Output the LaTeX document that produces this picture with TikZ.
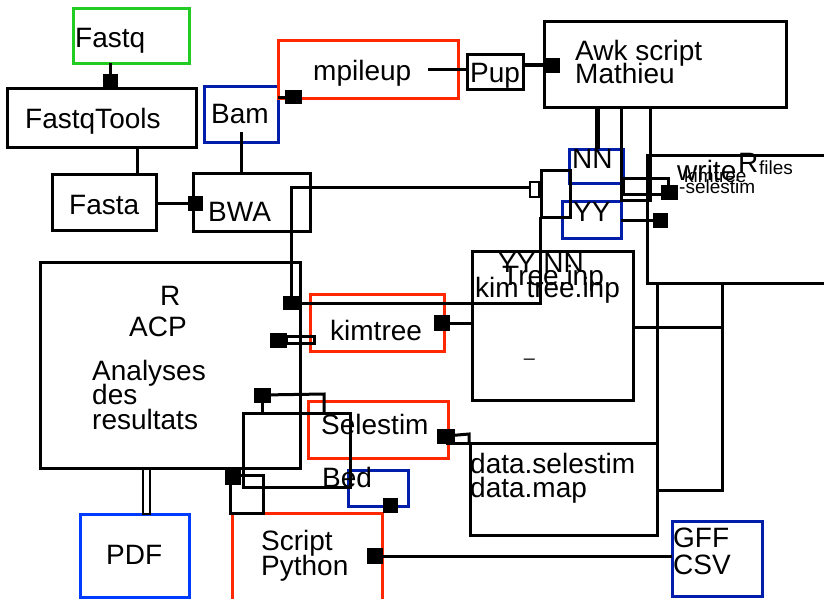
\documentclass[tikz,border=0pt]{standalone}
\usepackage{fontspec}
\setmainfont{Liberation Sans}
\usetikzlibrary{calc}
\definecolor{mygreen}{RGB}{34,204,34}
\definecolor{myred}{RGB}{255,40,0}
\definecolor{dblue}{RGB}{0,30,170}
\definecolor{bblue}{RGB}{0,60,255}
\begin{document}
\begin{tikzpicture}[x=1pt,y=-1pt,
 box/.style={draw, line width=3pt, inner sep=0pt, outer sep=0pt, anchor=north west},
 sq/.style={fill=black, inner sep=0pt, outer sep=0pt, minimum size=15pt},
 conn/.style={line width=3pt},
 thinc/.style={line width=2.2pt},
 lbl/.style={anchor=base west, inner sep=0pt, font=\fontsize{28}{28}\selectfont},
 slbl/.style={anchor=base west, inner sep=0pt, font=\fontsize{19}{19}\selectfont}]
\useasboundingbox (0,0) rectangle (824,598);
\clip (0,0) rectangle (824,598);
% boxes
\node[box, draw=mygreen, minimum width=116pt, minimum height=55pt] (fastq) at (73,8) {};
\node[box, minimum width=189pt, minimum height=59pt] (fastqtools) at (7,88) {};
\node[box, draw=dblue, minimum width=74pt, minimum height=56pt] (bam) at (204,86) {};
\node[box, draw=myred, minimum width=180pt, minimum height=58pt] (mpileup) at (278,40) {};
\node[box, minimum width=56pt, minimum height=35pt] (pup) at (467,54) {};
\node[box, minimum width=242pt, minimum height=86pt] (awk) at (544,21) {};
\node[box, minimum width=104pt, minimum height=56pt] (fasta) at (52,174) {};
\node[box, minimum width=117pt, minimum height=58pt] (bwa) at (193,173) {};
\node[box, minimum width=260pt, minimum height=206pt] (rbox) at (40,262) {};
\node[box, draw=myred, minimum width=134pt, minimum height=57pt] (kimtree) at (310,294) {};
\node[box, draw=myred, minimum width=140pt, minimum height=57pt] (selestim) at (308,401) {};
\node[box, draw=dblue, minimum width=60pt, minimum height=36pt] (bed) at (348,470) {};
\node[box, draw=myred, minimum width=150pt, minimum height=95pt] (python) at (232,513) {};
\node[box, draw=bblue, minimum width=109pt, minimum height=83pt] (pdf) at (80,514) {};
\node[box, minimum width=187pt, minimum height=92pt] (data) at (470,443) {};
\node[box, draw=dblue, minimum width=90pt, minimum height=75pt] (gff) at (672,521) {};
\node[box, minimum width=161pt, minimum height=149pt] (tree) at (472,251) {};
\node[box, minimum width=200pt, minimum height=128pt] (writer) at (647,155) {};
\node[box, draw=dblue, minimum width=54pt, minimum height=34pt] (nn) at (569,149) {};
\node[box, draw=dblue, minimum width=59pt, minimum height=37pt] (yy) at (562,201) {};
\node[box, minimum width=29pt, minimum height=47pt] (smallbox) at (541,170) {};
\node[box, line width=2.5pt, minimum width=9pt, minimum height=15pt] (tinybox) at (530,182) {};
% labels
\node[lbl] (tfastq) at (75,47) {Fastq};
\node[lbl] (tfastqtools) at (25,128) {FastqTools};
\node[lbl] (tbam) at (211,123) {Bam};
\node[lbl] (tmpileup) at (313,80) {mpileup};
\node[lbl] (tpup) at (470,82) {Pup};
\node[lbl] (tawk1) at (575,60) {Awk script};
\node[lbl] (tawk2) at (575,83) {Mathieu};
\node[lbl] (tfasta) at (69,214) {Fasta};
\node[lbl] (tbwa) at (208,221) {BWA};
\node[lbl] (tr) at (160,305) {R};
\node[lbl] (tacp) at (129,336) {ACP};
\node[lbl] (tan1) at (92,380) {Analyses};
\node[lbl] (tan2) at (92,404) {des};
\node[lbl] (tan3) at (92,429) {resultats};
\node[lbl] (tkim) at (330,340) {kimtree};
\node[lbl] (tsel) at (321,434) {Selestim};
\node[lbl] (tbed) at (322,487) {Bed};
\node[lbl] (tpy1) at (261,550) {Script};
\node[lbl] (tpy2) at (261,575) {Python};
\node[lbl] (tpdf) at (106,564) {PDF};
\node[lbl] (tdata1) at (470,473) {data.selestim};
\node[lbl] (tdata2) at (470,497) {data.map};
\node[lbl] (tgff1) at (673,547) {GFF};
\node[lbl] (tgff2) at (673,574) {CSV};
\node[lbl] (tyynn) at (498,272) {YY NN};
\node[lbl] (ttree) at (502,285) {Tree.inp};
\node[lbl] (tkimtree) at (475,297) {kim tree.inp};
\node[slbl] (tunder) at (524,356) {\_};
\node[lbl] (twrite) at (677,180) {write};
\node[lbl] (tR) at (738,172) {R};
\node[slbl] (tfiles) at (759,174) {files};
\node[slbl] (twkim) at (684,182) {kimtree};
\node[slbl] (twsel) at (679,193) {-selestim};
\node[lbl] (tnn) at (572,168) {NN};
\node[lbl] (tyy) at (573,221) {YY};
% square markers
\node[sq] (q1) at (110,81) {};
\node[sq] (q4) at (195,203) {};
\node[sq, minimum width=17pt, minimum height=14pt] (q5) at (293,97) {};
\node[sq] (q7) at (552,65) {};
\node[sq, minimum width=17pt] (q10) at (669,192) {};
\node[sq] (q11) at (660,220) {};
\node[sq, minimum width=17pt, minimum height=14pt] (q12) at (291,303) {};
\node[sq, minimum size=16pt] (q14) at (442,323) {};
\node[sq, minimum width=17pt] (q15) at (278,340) {};
\node[sq, minimum width=17pt] (q16) at (262,395) {};
\node[sq, minimum width=16pt, minimum height=16pt] (q17) at (233,477) {};
\node[sq, minimum width=18pt] (q19) at (446,436) {};
\node[sq, minimum size=16pt] (q22) at (375,556) {};
\node[sq] (q23) at (390,505) {};
% helper coordinates
\coordinate (c2) at (137,160);
\coordinate (c3) at (241,132);
\coordinate (c6) at (428,69);
\coordinate (c8) at (597,0);
\coordinate (c9a) at (621,200);
\coordinate (c9b) at (650,200);
\coordinate (c10a) at (623,178);
\coordinate (c10b) at (668,194);
\coordinate (c12) at (291,187);
\coordinate (c13) at (540,306);
\coordinate (c16a) at (324,394);
\coordinate (c16b) at (324,413);
\coordinate (c16c) at (243,413);
\coordinate (c16d) at (350,487);
\coordinate (c17a) at (230,475);
\coordinate (c17b) at (263,513);
\coordinate (c18a) at (143,468);
\coordinate (c18b) at (150,514);
\coordinate (c19) at (469,434);
\coordinate (c20) at (722,327);
\coordinate (c21) at (657,300);
\coordinate (c22) at (722,490);
% connectors
\draw[conn] (q1 |- fastq.south) -- (q1.center);
\draw[conn] (c2 |- fastqtools.south) -- (c2 |- fasta.north);
\draw[conn] (c3) -- (c3 |- bwa.north);
\draw[conn] (fasta.east |- q4) -- (q4);
\draw[conn] (bam.east |- q5) -- (q5);
\draw[conn] (c6) -- (c6 -| pup.west);
\draw[line width=4.5pt] (pup.east |- q7) -- (q7);
\draw[line width=5pt] (c8 |- awk.south) -- (c8 |- nn.north);
\draw[conn] (c9a |- awk.south) -- (c9a) -- (c9b) -- (c9b |- awk.south);
\draw[conn] (c10a) rectangle (c10b);
\draw[conn] (yy.east |- q11) -- (q11);
\draw[conn] (q12) -- (q12 |- c12) -- (c12 -| tinybox.west);
\draw[conn] (q12) -- (q12 -| c13) -- (c13 |- smallbox.south);
\draw[conn] (q14) -- (q14 -| tree.west);
\draw[thinc] ($(q15.east)+(0,-3.5)$) rectangle ($(q15.east)+(28,3.5)$);
\draw[conn] (q16) -- (c16a) -- (c16b);
\draw[conn] (q16) -- (q16 |- c16b);
\draw[conn] (c16c) rectangle (c16d);
\draw[conn] (c17a) rectangle (c17b);
\draw[thinc] (c18a) rectangle (c18b);
\draw[conn] (q19) -- (c19) -- (c19 |- data.north);
\draw[conn] (q19 |- data.north) -- (data.north west);
\draw[conn] (c20 -| tree.east) -- (c20);
\draw[conn] (c21 |- writer.south) -- (c21 |- data.north);
\draw[conn] (c22 |- writer.south) -- (c22) -- (c22 -| data.east);
\draw[conn] (q22) -- (q22 -| gff.west);
\end{tikzpicture}
\end{document}
